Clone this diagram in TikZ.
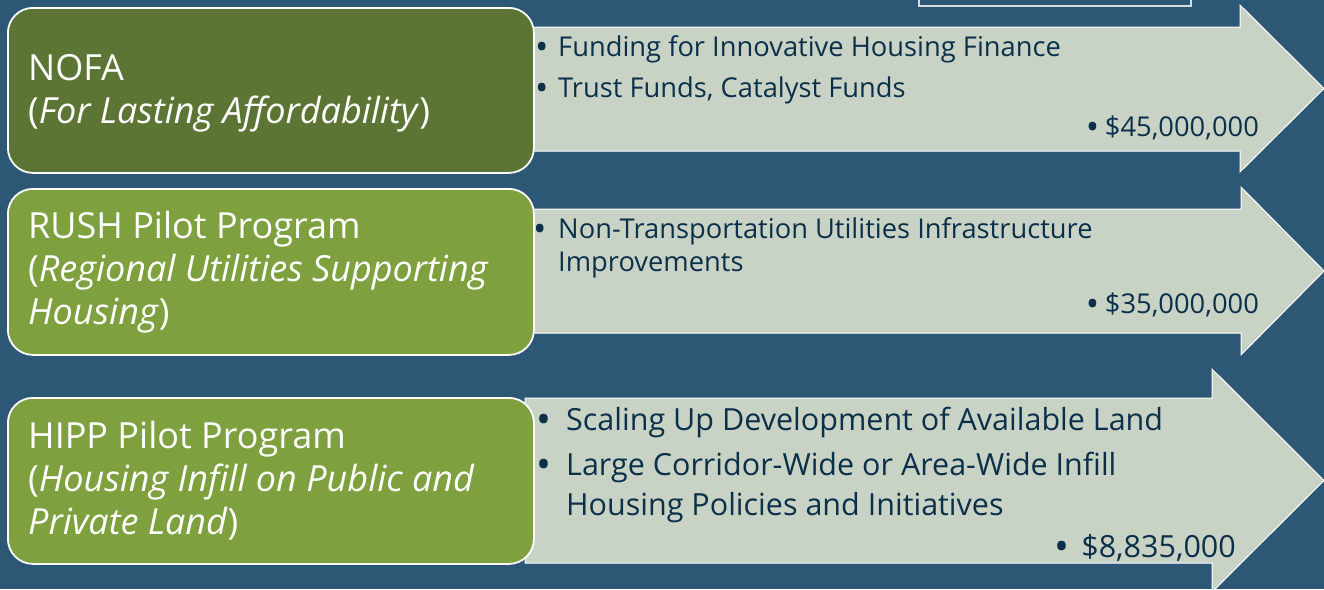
\documentclass[tikz,border=0pt]{standalone}
\usepackage{fontspec}
\setmainfont{Open Sans}
\definecolor{bgblue}{HTML}{2D5875}
\definecolor{darkolive}{HTML}{5C7535}
\definecolor{lightolive}{HTML}{7FA03F}
\definecolor{arrowfill}{HTML}{C8D3C6}
\definecolor{itemtext}{HTML}{0C3049}
\definecolor{frameline}{HTML}{D4DCE0}
\newcommand\progfont{\fontsize{36}{42}\selectfont}
\newcommand\itemfont{\fontsize{27.3}{32}\selectfont}
\newcommand\bigitemfont{\fontsize{30.5}{36}\selectfont}
\newcommand\bul{\raisebox{-0.13em}{\scalebox{1.3}{•}}}
\tikzset{
  progbox/.style={draw=white, line width=1.8pt, rounded corners=25pt},
  arrowshape/.style={draw=white, line width=1pt, fill=arrowfill},
  progtext/.style={text=white, font=\progfont, anchor=base west, inner sep=0pt},
  itemtext/.style={text=itemtext, font=\itemfont, anchor=base west, inner sep=0pt},
  bigitem/.style={text=itemtext, font=\bigitemfont, anchor=base west, inner sep=0pt},
  amount/.style={anchor=base east},
}
\begin{document}
\begin{tikzpicture}[x=1pt,y=-1pt]
\useasboundingbox (0,0) rectangle (1324,589);
\fill[bgblue] (0,0) rectangle (1324,589);
% top-right outlined frame
\draw[frameline, line width=1.2pt] (919,-10) rectangle (1191,6);
% arrows
\draw[arrowshape] (525,27) -- (1240,27) -- (1240,5) -- (1324,88.5) -- (1240,172) -- (1240,151) -- (525,151) -- cycle;
\draw[arrowshape] (525,209) -- (1241,209) -- (1241,187) -- (1324,271) -- (1241,355) -- (1241,333) -- (525,333) -- cycle;
\draw[arrowshape] (525,398) -- (1212,398) -- (1212,369) -- (1324,480.5) -- (1212,592) -- (1212,563) -- (525,563) -- cycle;
% program boxes
\node[progbox, fill=darkolive, minimum width=526pt, minimum height=165pt, anchor=north west] (nofa) at (7,7) {};
\node[progbox, fill=lightolive, minimum width=526pt, minimum height=166pt, anchor=north west] (rush) at (7,188) {};
\node[progbox, fill=lightolive, minimum width=526pt, minimum height=166pt, anchor=north west] (hipp) at (7,397) {};
% box texts
\node[progtext] (nofa1) at (28,80) {NOFA};
\node[progtext] (nofa2) at (28,123) {(\textit{For Lasting Affordability})};
\node[progtext] (rush1) at (28,238) {RUSH Pilot Program};
\node[progtext] (rush2) at (28,281) {(\textit{Regional Utilities Supporting}};
\node[progtext] (rush3) at (28,324) {\textit{Housing})};
\node[progtext] (hipp1) at (28,448) {HIPP Pilot Program};
\node[progtext] (hipp2) at (28,491) {(\textit{Housing Infill on Public and}};
\node[progtext] (hipp3) at (28,534) {\textit{Private Land})};
% arrow 1 items
\node[itemtext] (a1i1) at (535,56) {\makebox[23pt][l]{\bul}Funding for Innovative Housing Finance};
\node[itemtext] (a1i2) at (535,97) {\makebox[23pt][l]{\bul}Trust Funds, Catalyst Funds};
\node[itemtext, amount] (a1amt) at (1259,136) {\makebox[19pt][l]{\bul}\$45,000,000};
% arrow 2 items
\node[itemtext] (a2i1) at (533,238) {\makebox[25pt][l]{\bul}Non-Transportation Utilities Infrastructure};
\node[itemtext] (a2i1b) at (558,271) {Improvements};
\node[itemtext, amount] (a2amt) at (1259,313) {\makebox[19pt][l]{\bul}\$35,000,000};
% arrow 3 items
\node[bigitem] (a3i1) at (536,430) {\makebox[30pt][l]{\bul}Scaling Up Development of Available Land};
\node[bigitem] (a3i2) at (536,475) {\makebox[30pt][l]{\bul}Large Corridor-Wide or Area-Wide Infill};
\node[bigitem] (a3i2b) at (566,515) {Housing Policies and Initiatives};
\node[bigitem, amount] (a3amt) at (1236,557) {\makebox[27pt][l]{\bul}\$8,835,000};
\end{tikzpicture}
\end{document}
